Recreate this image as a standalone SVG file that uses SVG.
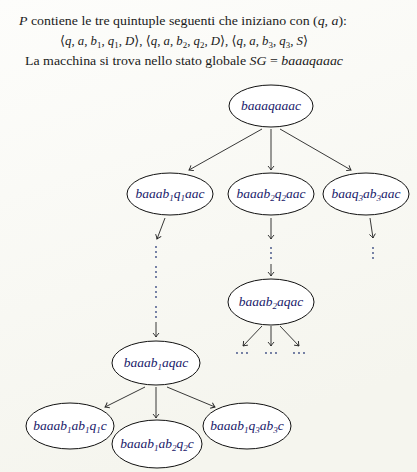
<svg xmlns="http://www.w3.org/2000/svg" width="417" height="472" viewBox="0 0 417 472">
<defs>
<linearGradient id="bg" x1="0" y1="0" x2="0.3" y2="1">
<stop offset="0" stop-color="#fdfdfb"/>
<stop offset="1" stop-color="#f5f5ee"/>
</linearGradient>
<marker id="ah" viewBox="-5 -4 6 8" markerWidth="6" markerHeight="8" refX="0" refY="0" orient="auto" markerUnits="userSpaceOnUse">
<path d="M-4,-3 Q-1.5,-0.8 0,0 Q-1.5,0.8 -4,3" fill="none" stroke="#222" stroke-width="0.9"/>
</marker>
<style>
text{font-family:'Liberation Serif','Times New Roman','DejaVu Serif',serif}
.hd{font-size:13px;fill:#1a1a1a}
.m{font-style:italic}
.lb{font-size:13.5px;font-style:italic;fill:#20206a}
.sb{font-size:9px}
ellipse{fill:#ffffff;stroke:#111;stroke-width:1}
.e{stroke:#222;stroke-width:0.9;fill:none;marker-end:url(#ah)}
.d{fill:#3a4a80}
</style>
</defs>
<rect width="417" height="472" fill="url(#bg)"/>
<g id="header" font-family="Liberation Serif, serif">
<text class="hd" x="19" y="25" textLength="328" lengthAdjust="spacingAndGlyphs"><tspan class="m">P</tspan> contiene le tre quintuple seguenti che iniziano con (<tspan class="m">q</tspan>, <tspan class="m">a</tspan>):</text>
<text class="hd" x="60" y="45" textLength="248" lengthAdjust="spacingAndGlyphs">⟨<tspan class="m">q</tspan>, <tspan class="m">a</tspan>, <tspan class="m">b</tspan><tspan class="sb" dy="3">1</tspan><tspan dy="-3">, </tspan><tspan class="m">q</tspan><tspan class="sb" dy="3">1</tspan><tspan dy="-3">, </tspan><tspan class="m">D</tspan>⟩, ⟨<tspan class="m">q</tspan>, <tspan class="m">a</tspan>, <tspan class="m">b</tspan><tspan class="sb" dy="3">2</tspan><tspan dy="-3">, </tspan><tspan class="m">q</tspan><tspan class="sb" dy="3">2</tspan><tspan dy="-3">, </tspan><tspan class="m">D</tspan>⟩, ⟨<tspan class="m">q</tspan>, <tspan class="m">a</tspan>, <tspan class="m">b</tspan><tspan class="sb" dy="3">3</tspan><tspan dy="-3">, </tspan><tspan class="m">q</tspan><tspan class="sb" dy="3">3</tspan><tspan dy="-3">, </tspan><tspan class="m">S</tspan>⟩</text>
<text class="hd" x="25" y="65" textLength="318" lengthAdjust="spacingAndGlyphs">La macchina si trova nello stato globale <tspan class="m">SG</tspan> = <tspan class="m">baaaqaaac</tspan></text>
</g>
<g id="connectors">
<line class="e" x1="262" y1="129" x2="189" y2="170"/>
<line class="e" x1="271" y1="129" x2="271" y2="170"/>
<line class="e" x1="280" y1="129" x2="351" y2="170"/>
<line class="e" x1="165" y1="218" x2="157" y2="239"/>
<line class="e" x1="156" y1="322" x2="156" y2="337"/>
<line class="e" x1="271" y1="218" x2="271" y2="239"/>
<line class="e" x1="271" y1="264" x2="271" y2="276"/>
<line class="e" x1="370" y1="218" x2="373" y2="238"/>
<line class="e" x1="262" y1="326" x2="243" y2="346"/>
<line class="e" x1="271" y1="326" x2="271" y2="346"/>
<line class="e" x1="280" y1="326" x2="299" y2="346"/>
<line class="e" x1="145" y1="387" x2="105" y2="407"/>
<line class="e" x1="156" y1="387" x2="156" y2="418"/>
<line class="e" x1="167" y1="387" x2="215" y2="407"/>
<g id="dots">
<circle class="d" cx="156" cy="247" r="0.9"/><circle class="d" cx="156" cy="252" r="0.9"/><circle class="d" cx="156" cy="257" r="0.9"/>
<circle class="d" cx="156" cy="267" r="0.9"/><circle class="d" cx="156" cy="272" r="0.9"/><circle class="d" cx="156" cy="277" r="0.9"/>
<circle class="d" cx="156" cy="287" r="0.9"/><circle class="d" cx="156" cy="292" r="0.9"/><circle class="d" cx="156" cy="297" r="0.9"/>
<circle class="d" cx="156" cy="307" r="0.9"/><circle class="d" cx="156" cy="312" r="0.9"/><circle class="d" cx="156" cy="317" r="0.9"/>
<circle class="d" cx="271" cy="248" r="0.9"/><circle class="d" cx="271" cy="253" r="0.9"/><circle class="d" cx="271" cy="258" r="0.9"/>
<circle class="d" cx="373" cy="248" r="0.9"/><circle class="d" cx="373" cy="253" r="0.9"/><circle class="d" cx="373" cy="258" r="0.9"/>
<circle class="d" cx="237" cy="353" r="0.9"/><circle class="d" cx="242" cy="353" r="0.9"/><circle class="d" cx="247" cy="353" r="0.9"/>
<circle class="d" cx="266" cy="353" r="0.9"/><circle class="d" cx="271" cy="353" r="0.9"/><circle class="d" cx="276" cy="353" r="0.9"/>
<circle class="d" cx="294" cy="353" r="0.9"/><circle class="d" cx="299" cy="353" r="0.9"/><circle class="d" cx="304" cy="353" r="0.9"/>
</g>
</g>
<g id="n0"><ellipse cx="271" cy="106" rx="42" ry="21"/><text class="lb" x="271" y="110" text-anchor="middle">baaaqaaac</text></g>
<g id="n1"><ellipse cx="170" cy="194" rx="43" ry="21"/><text class="lb" x="170" y="198" text-anchor="middle">baaab<tspan class="sb" dy="3">1</tspan><tspan dy="-3">q</tspan><tspan class="sb" dy="3">1</tspan><tspan dy="-3">aac</tspan></text></g>
<g id="n2"><ellipse cx="271" cy="194" rx="43" ry="21"/><text class="lb" x="271" y="198" text-anchor="middle">baaab<tspan class="sb" dy="3">2</tspan><tspan dy="-3">q</tspan><tspan class="sb" dy="3">2</tspan><tspan dy="-3">aac</tspan></text></g>
<g id="n3"><ellipse cx="366" cy="194" rx="43" ry="21"/><text class="lb" x="366" y="198" text-anchor="middle">baaq<tspan class="sb" dy="3">3</tspan><tspan dy="-3">ab</tspan><tspan class="sb" dy="3">3</tspan><tspan dy="-3">aac</tspan></text></g>
<g id="n4"><ellipse cx="271" cy="302" rx="43" ry="23"/><text class="lb" x="271" y="306" text-anchor="middle">baaab<tspan class="sb" dy="3">2</tspan><tspan dy="-3">aqac</tspan></text></g>
<g id="n5"><ellipse cx="156" cy="363" rx="44" ry="22"/><text class="lb" x="156" y="367" text-anchor="middle">baaab<tspan class="sb" dy="3">1</tspan><tspan dy="-3">aqac</tspan></text></g>
<g id="n6"><ellipse cx="70" cy="426" rx="44" ry="23"/><text class="lb" x="70" y="430" text-anchor="middle">baaab<tspan class="sb" dy="3">1</tspan><tspan dy="-3">ab</tspan><tspan class="sb" dy="3">1</tspan><tspan dy="-3">q</tspan><tspan class="sb" dy="3">1</tspan><tspan dy="-3">c</tspan></text></g>
<g id="n7"><ellipse cx="157" cy="444" rx="45" ry="24"/><text class="lb" x="157" y="448" text-anchor="middle">baaab<tspan class="sb" dy="3">1</tspan><tspan dy="-3">ab</tspan><tspan class="sb" dy="3">2</tspan><tspan dy="-3">q</tspan><tspan class="sb" dy="3">2</tspan><tspan dy="-3">c</tspan></text></g>
<g id="n8"><ellipse cx="247" cy="426" rx="44" ry="23"/><text class="lb" x="247" y="430" text-anchor="middle">baaab<tspan class="sb" dy="3">1</tspan><tspan dy="-3">q</tspan><tspan class="sb" dy="3">3</tspan><tspan dy="-3">ab</tspan><tspan class="sb" dy="3">3</tspan><tspan dy="-3">c</tspan></text></g>
</svg>
